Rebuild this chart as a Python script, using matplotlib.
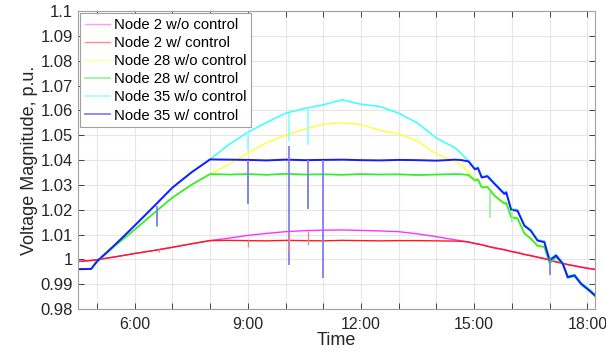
import matplotlib
matplotlib.use('Agg')
import matplotlib.pyplot as plt
from matplotlib.ticker import FuncFormatter, MultipleLocator

plt.rcParams['font.family'] = ['Liberation Sans', 'DejaVu Sans']

# sample times (hours of day)
hours = [4.5, 4.85, 5.0, 5.5, 6.0, 6.5, 7.0, 7.5, 8.0, 8.5, 9.0, 9.5, 10.0, 10.5,
         11.0, 11.5, 12.0, 12.5, 13.0, 13.5, 14.0, 14.5,
         14.67, 14.85, 15.02, 15.1, 15.2, 15.35, 15.55, 15.8, 15.85, 15.98, 16.15,
         16.33, 16.5, 16.68, 16.86, 17.0, 17.17, 17.35, 17.48, 17.66, 17.83, 18.05, 18.2]

# Node 2 (morning ramp shared by both cases, up to 8:00)
n2_ramp = [0.9992, 0.9996, 0.9999, 1.0011, 1.0024, 1.0036, 1.0049, 1.0063, 1.0076]
n2_ctrl = n2_ramp + [1.0077, 1.0076, 1.0075, 1.0077, 1.0076, 1.0075, 1.0077, 1.0076, 1.0075,
                     1.0076, 1.0076, 1.0075, 1.0074,
                     1.0073, 1.0070, 1.0064, 1.0062, 1.0059, 1.0053, 1.0046, 1.0039, 1.0037,
                     1.0032, 1.0027, 1.0020, 1.0015, 1.0009, 1.0003, 0.9997, 0.9990, 0.9984,
                     0.9979, 0.9974, 0.9969, 0.9963, 0.9960]
n2_noctrl = n2_ramp + [1.0086, 1.0097, 1.0105, 1.0112, 1.0116, 1.0118, 1.0119, 1.0117, 1.0115,
                       1.0112, 1.0103, 1.0092, 1.0079,
                       1.0075, 1.0071, 1.0065, 1.0063, 1.0060, 1.0054, 1.0047, 1.0040, 1.0038,
                       1.0033, 1.0028, 1.0021, 1.0016, 1.0010, 1.0004, 0.9998, 0.9991, 0.9985,
                       0.9980, 0.9975, 0.9970, 0.9964, 0.9961]

# Node 28
n28_ramp = [0.9961, 0.9962, 0.9990, 1.0058, 1.0120, 1.0185, 1.0249, 1.0300, 1.0344]
n28_ctrl = n28_ramp + [1.0342, 1.0344, 1.0341, 1.0345, 1.0342, 1.0343, 1.0341, 1.0344, 1.0342,
                       1.0343, 1.0340, 1.0342, 1.0344,
                       1.0343, 1.0340, 1.0318, 1.0322, 1.0290, 1.0292, 1.0255, 1.0225, 1.0228,
                       1.0170, 1.0165, 1.0105, 1.0084, 1.0055, 1.0050, 0.9985, 1.0010, 0.9980,
                       0.9926, 0.9933, 0.9900, 0.9873, 0.9853]
n28_noctrl = n28_ramp + [1.0383, 1.0429, 1.0470, 1.0500, 1.0525, 1.0544, 1.0550, 1.0544, 1.0520,
                         1.0506, 1.0476, 1.0424, 1.0396,
                         1.0380, 1.0350, 1.0322, 1.0326, 1.0294, 1.0296, 1.0259, 1.0229, 1.0232,
                         1.0174, 1.0169, 1.0109, 1.0088, 1.0059, 1.0054, 0.9989, 1.0014, 0.9984,
                         0.9930, 0.9937, 0.9904, 0.9877, 0.9857]

# Node 35
n35_ramp = [0.9961, 0.9962, 0.9992, 1.0062, 1.0136, 1.0212, 1.0289, 1.0350, 1.0403]
n35_ctrl = n35_ramp + [1.0402, 1.0401, 1.0399, 1.0402, 1.0400, 1.0401, 1.0402, 1.0400, 1.0399,
                       1.0401, 1.0400, 1.0398, 1.0402,
                       1.0400, 1.0395, 1.0363, 1.0368, 1.0330, 1.0335, 1.0303, 1.0264, 1.0270,
                       1.0200, 1.0196, 1.0136, 1.0116, 1.0076, 1.0070, 0.9996, 1.0016, 0.9983,
                       0.9929, 0.9936, 0.9903, 0.9876, 0.9856]
n35_noctrl = n35_ramp + [1.0463, 1.0512, 1.0552, 1.0589, 1.0608, 1.0623, 1.0643, 1.0625, 1.0616,
                         1.0589, 1.0549, 1.0489, 1.0449,
                         1.0425, 1.0398, 1.0367, 1.0372, 1.0334, 1.0339, 1.0307, 1.0268, 1.0274,
                         1.0204, 1.0200, 1.0140, 1.0120, 1.0080, 1.0074, 1.0000, 1.0020, 0.9987,
                         0.9933, 0.9940, 0.9907, 0.9880, 0.9860]

# short voltage dips (time, bottom, top)
n35_spike_t = [6.6, 9.0, 10.09, 10.6, 10.99, 17.0]
n35_spike_lo = [1.0136, 1.0224, 0.9976, 1.0204, 0.9924, 0.9936]
n35_spike_hi = [1.0216, 1.0401, 1.0456, 1.0400, 1.0401, 1.0010]
n28_spike_t = [6.6, 9.0, 10.6, 15.42, 16.0]
n28_spike_lo = [1.0130, 1.0224, 1.0204, 1.0169, 1.0150]
n28_spike_hi = [1.0200, 1.0344, 1.0342, 1.0270, 1.0200]
n35o_spike_t = [9.0, 10.09, 10.6]
n35o_spike_lo = [1.0436, 1.0476, 1.0460]
n35o_spike_hi = [1.0512, 1.0589, 1.0608]
n2_spike_t = [6.65, 9.0, 10.09, 10.6]
n2_spike_lo = [1.0030, 1.0049, 1.0035, 1.0060]
n2_spike_hi = [1.0042, 1.0077, 1.0112, 1.0116]

fig = plt.figure(figsize=(6.06, 3.57), dpi=100)
ax = fig.add_axes([0.1287, 0.134, 0.8536, 0.8348])

ax.plot(hours, n2_noctrl, color='#ff33ff', lw=1.0, label='Node 2 w/o control')
ax.plot(hours, n2_ctrl, color='#ff1a1a', lw=1.0, label='Node 2 w/ control')
ax.plot(hours, n28_noctrl, color='#ffff33', lw=1.0, label='Node 28 w/o control')
ax.plot(hours, n28_ctrl, color='#33ee33', lw=1.3, label='Node 28 w/ control')
ax.plot(hours, n35_noctrl, color='#44ffff', lw=1.2, label='Node 35 w/o control')
ax.plot(hours, n35_ctrl, color='#1a1aff', lw=1.4, label='Node 35 w/ control')

ax.vlines(n35o_spike_t, n35o_spike_lo, n35o_spike_hi, color='#88ffff', lw=1.2)
ax.vlines(n28_spike_t, n28_spike_lo, n28_spike_hi, color='#99ee99', lw=1.2)
ax.vlines(n35_spike_t, n35_spike_lo, n35_spike_hi, color='#7777ee', lw=1.2)
ax.vlines(n2_spike_t, n2_spike_lo, n2_spike_hi, color='#ee8888', lw=1.0)

ax.set_xlim(4.5, 18.21)
ax.set_ylim(0.98, 1.1)
ax.xaxis.set_major_locator(MultipleLocator(1))
ax.yaxis.set_major_locator(MultipleLocator(0.01))
ax.xaxis.set_major_formatter(FuncFormatter(
    lambda v, p: '%d:00' % round(v) if round(v) % 3 == 0 else ''))
ax.yaxis.set_major_formatter(FuncFormatter(lambda v, p: '%g' % round(v, 2)))

ax.grid(True, color='#e6e6e6', lw=0.8)
ax.set_axisbelow(True)
ax.tick_params(direction='in', top=True, right=True, length=4, width=0.6,
               colors='#262626', labelsize=12)
ax.tick_params(axis='x', pad=6, labelsize=11.5)
for s in ax.spines.values():
    s.set_color('#a0a0a0')
    s.set_linewidth(0.8)

ax.set_xlabel('Time', fontsize=13, color='#262626', labelpad=0)
ax.set_ylabel('Voltage Magnitude, p.u.', fontsize=13, color='#262626', labelpad=2)

leg = ax.legend(loc='upper left', fontsize=10.7, handlelength=1.7, handletextpad=0.3,
                labelspacing=0.28, borderaxespad=0.15, fancybox=False, framealpha=1,
                borderpad=0.3)
leg.get_frame().set_edgecolor('#a0a0a0')
leg.get_frame().set_linewidth(0.8)
for line in leg.get_lines():
    line.set_alpha(0.5)

fig.savefig('out.png', dpi=100)
